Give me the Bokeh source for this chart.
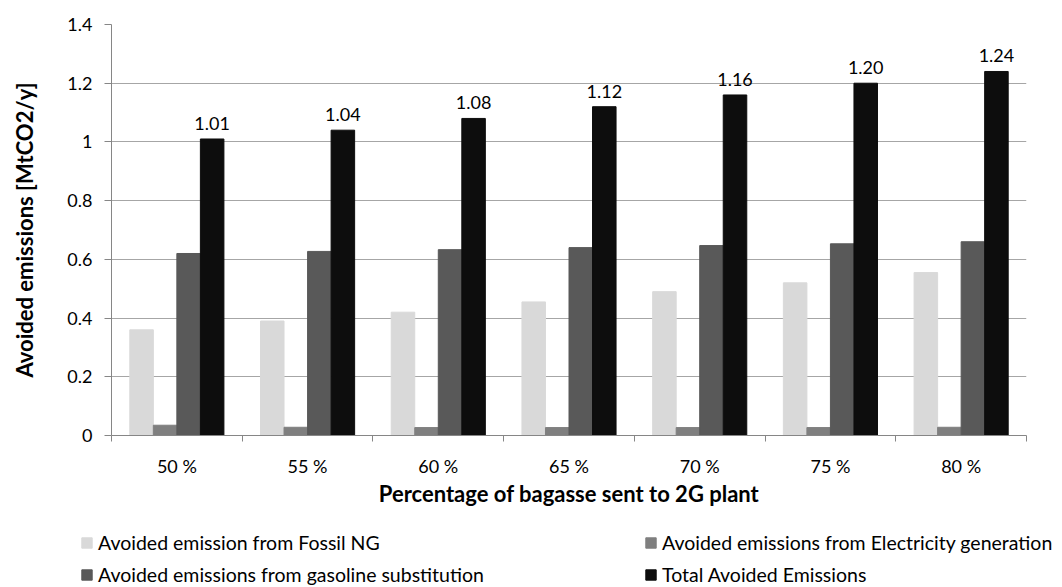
import numpy as np
from bokeh.plotting import figure
from bokeh.layouts import column
from bokeh.models import (Range1d, FixedTicker, CustomJSTickFormatter, Legend, LegendItem,
                          ColumnDataSource, LabelSet)
from bokeh.core.properties import value
from bokeh.embed import file_html
from bokeh.resources import INLINE

categories = ["50 %", "55 %", "60 %", "65 %", "70 %", "75 %", "80 %"]
fossil_ng = [0.36, 0.39, 0.42, 0.455, 0.49, 0.52, 0.555]
electricity = [0.035, 0.028, 0.027, 0.027, 0.027, 0.027, 0.028]
gasoline = [0.62, 0.627, 0.633, 0.64, 0.647, 0.653, 0.66]
total = [1.01, 1.04, 1.08, 1.12, 1.16, 1.20, 1.24]
y_ticks = [0, 0.2, 0.4, 0.6, 0.8, 1.0, 1.2, 1.4]

series = [
    ("Avoided emission from Fossil NG", fossil_ng, "#d9d9d9"),
    ("Avoided emissions from Electricity generation", electricity, "#7f7f7f"),
    ("Avoided emissions from gasoline substitution", gasoline, "#595959"),
    ("Total Avoided Emissions", total, "#0d0d0d"),
]

FONT = "Lato"
n = len(categories)
centers = np.arange(n) + 0.5
bar_w = 0.18
offsets = [-1.5 * bar_w, -0.5 * bar_w, 0.5 * bar_w, 1.5 * bar_w]

p = figure(width=1060, height=515, output_backend="svg", toolbar_location=None,
           x_range=Range1d(0, n), y_range=Range1d(0, 1.4),
           min_border_left=111, min_border_right=34, min_border_top=24, min_border_bottom=80)
p.outline_line_color = None
p.background_fill_color = "white"
p.border_fill_color = "white"

# legend strip below the chart (its own frame; data kept out of its visible range)
lg = figure(width=1062, height=71, output_backend="svg", toolbar_location=None,
            x_range=Range1d(-3, -2), y_range=Range1d(0, 1),
            min_border_left=0, min_border_right=0, min_border_top=0, min_border_bottom=0)
lg.axis.visible = False
lg.grid.visible = False
lg.outline_line_color = None
lg.border_fill_color = "white"
for fig in (p, lg):
    if "frame_align" in fig.properties():
        fig.frame_align = False

items = []
for (name, vals, col), off in zip(series, offsets):
    src = ColumnDataSource(dict(x=centers + off, top=vals))
    p.vbar(x="x", top="top", width=bar_w, source=src, fill_color=col, line_color=col)
    lr = lg.vbar(x="x", top="top", width=bar_w, source=src, fill_color=col, line_color=col)
    items.append(LegendItem(label=name, renderers=[lr]))

lab_src = ColumnDataSource(dict(x=centers + offsets[3], y=total, t=[f"{v:.2f}" for v in total]))
p.add_layout(LabelSet(x="x", y="y", text="t", source=lab_src, text_align="center",
                      text_baseline="bottom", y_offset=9, text_font=value(FONT),
                      text_font_size="18px", text_color="#000000"))

# x axis
xa = p.xaxis[0]
xa.ticker = FixedTicker(ticks=list(centers), minor_ticks=list(np.arange(n + 1)))
xa.major_label_overrides = {float(c): cat for c, cat in zip(centers, categories)}
xa.major_tick_out = 0
xa.major_tick_in = 0
xa.minor_tick_out = 6
xa.minor_tick_in = 0
xa.minor_tick_line_color = "#868686"
xa.axis_line_color = "#868686"
xa.major_label_standoff = 13
xa.major_label_text_font = FONT
xa.major_label_text_font_size = "18px"
xa.major_label_text_color = "#000000"
xa.axis_label = "Percentage of bagasse sent to 2G plant"
xa.axis_label_text_font = FONT
xa.axis_label_text_font_style = "bold"
xa.axis_label_text_font_size = "22px"
xa.axis_label_standoff = 0
xa.axis_label_text_color = "#000000"

# y axis
ya = p.yaxis[0]
ya.ticker = FixedTicker(ticks=y_ticks, minor_ticks=[])
ya.formatter = CustomJSTickFormatter(code="return String(+tick.toFixed(2));")
ya.major_tick_out = 7
ya.major_tick_in = 0
ya.major_tick_line_color = "#868686"
ya.axis_line_color = "#868686"
ya.major_label_standoff = 12
ya.major_label_text_font = FONT
ya.major_label_text_font_size = "18px"
ya.major_label_text_color = "#000000"
ya.axis_label = "Avoided emissions [MtCO2/y]"
ya.axis_label_text_font = FONT
ya.axis_label_text_font_style = "bold"
ya.axis_label_text_font_size = "22px"
ya.axis_label_standoff = 26
ya.axis_label_text_color = "#000000"

p.xgrid.grid_line_color = None
p.ygrid.grid_line_color = "#a6a6a6"
p.ygrid.ticker = FixedTicker(ticks=y_ticks)

legend = Legend(items=items, orientation="horizontal", ncols=2, location=(80, 0),
                label_text_font=FONT, label_text_font_size="19.5px", label_text_color="#000000",
                glyph_width=13, glyph_height=13, label_standoff=5, label_width=537,
                label_height=20, spacing=9, padding=0, margin=0,
                border_line_color=None, background_fill_alpha=0)
lg.add_layout(legend, "center")

layout = column(p, lg, spacing=0)
open("out.html", "w").write(file_html(layout, INLINE))
